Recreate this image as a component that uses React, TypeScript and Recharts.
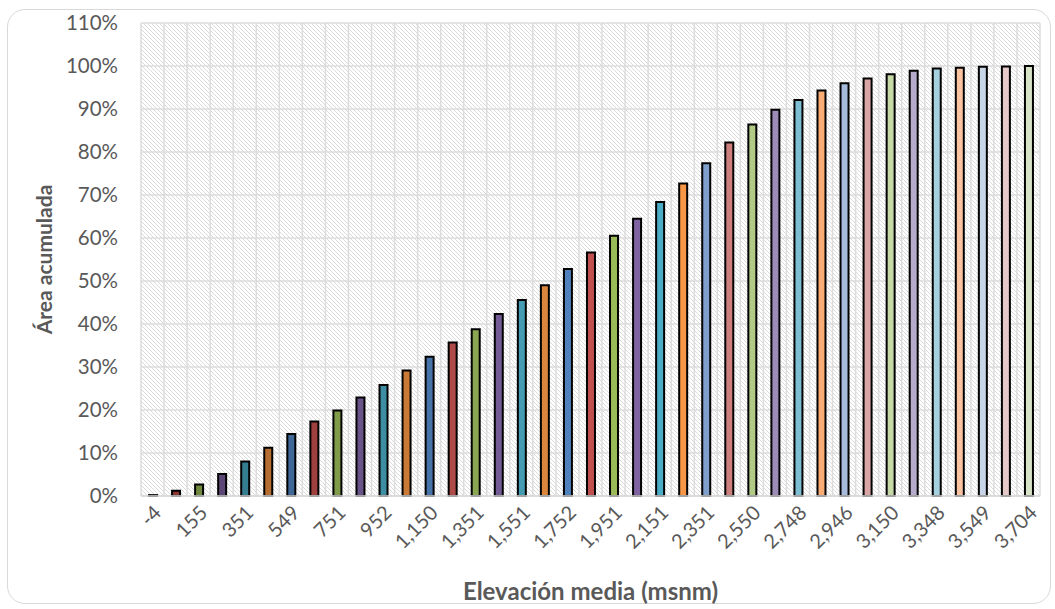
import { Bar, BarChart, CartesianGrid, Cell, XAxis, YAxis } from "recharts";

// elevación media de cada clase (msnm); las de índice impar no se rotulan
const elevations = [
  -4, 55, 155, 252, 351, 450, 549, 650, 751, 851, 952, 1051, 1150, 1250, 1351, 1451, 1551, 1651, 1752, 1851,
  1951, 2051, 2151, 2251, 2351, 2451, 2550, 2649, 2748, 2847, 2946, 3049, 3150, 3249, 3348, 3449, 3549, 3650, 3704,
];

// área acumulada (%)
const areaAcumulada = [
  0.2, 1.2, 2.7, 5.1, 8.0, 11.2, 14.4, 17.3, 19.9, 22.9, 25.8, 29.2, 32.4, 35.7, 38.8, 42.3, 45.6, 49.0, 52.8, 56.6,
  60.5, 64.5, 68.4, 72.7, 77.4, 82.2, 86.4, 89.8, 92.1, 94.3, 96.0, 97.1, 98.1, 98.9, 99.4, 99.6, 99.8, 99.9, 100,
];

const barColors = [
  "#385D8A", "#8C3836", "#71893F", "#5C4776", "#357D91", "#B66D31",
  "#3F6899", "#9E413E", "#809C4B", "#69548A", "#3D8DA3", "#C97A37",
  "#4674AA", "#AE4A47", "#8AA653", "#735C95", "#449BB2", "#DA863D",
  "#4F81BD", "#C0504D", "#9BBB59", "#8064A2", "#4BACC6", "#F79646",
  "#7F9FCC", "#CD7F7D", "#B1CA85", "#9D8BB8", "#7DBED3", "#F9AD75",
  "#A7BBDC", "#DAA6A5", "#C5D8A6", "#B7ABCB", "#A5D0DD", "#FAC4A3",
  "#C8D4E8", "#E5C8C8", "#D7E3C7",
];

const yTicks = [0, 10, 20, 30, 40, 50, 60, 70, 80, 90, 100, 110];

const data = elevations.map((e, i) => ({
  elev: e.toLocaleString("en-US"),
  area: areaAcumulada[i],
}));

const FONT = "Lato, 'Open Sans', sans-serif";
const GRAY = "#595959";

export default function App() {
  return (
    <div style={{ position: "absolute", left: 0, top: 0, width: 1055, height: 609, background: "#fff", fontFamily: FONT }}>
      <div
        style={{
          position: "absolute",
          left: 7,
          top: 9,
          width: 1044,
          height: 595,
          border: "1.5px solid #D9D9D9",
          borderRadius: 18,
          boxSizing: "border-box",
        }}
      />
      <BarChart
        width={1055}
        height={609}
        data={data}
        margin={{ top: 23, right: 15, left: 0, bottom: 73 }}
        barCategoryGap={0}
        style={{ position: "absolute", left: 0, top: 0 }}
      >
        <defs>
          <pattern id="hatch" width="4" height="4" patternUnits="userSpaceOnUse">
            <rect width="4" height="4" fill="#fff" />
            <path d="M0,0 L4,4 M-1,3 L1,5 M3,-1 L5,1" stroke="#DADADA" strokeWidth="1" />
          </pattern>
        </defs>
        <CartesianGrid
          fill="url(#hatch)"
          stroke="#DCDCDC"
          strokeWidth={1.5}
          verticalCoordinatesGenerator={({ offset }: any) =>
            data.map((_, i) => offset.left + (i * offset.width) / data.length).concat(offset.left + offset.width)
          }
        />
        <XAxis
          dataKey="elev"
          interval={1}
          angle={-45}
          textAnchor="end"
          height={40}
          tickLine={false}
          axisLine={{ stroke: "#D9D9D9", strokeWidth: 1.5 }}
          tick={{ fill: GRAY, fontSize: 20, fontFamily: FONT }}
          label={{
            value: "Elevación media (msnm)",
            position: "bottom",
            offset: 47,
            style: { fill: GRAY, fontSize: 24, fontWeight: 700, fontFamily: FONT },
          }}
        />
        <YAxis
          width={141}
          domain={[0, 110]}
          ticks={yTicks}
          tickFormatter={(v) => `${v}%`}
          tickLine={false}
          axisLine={false}
          tickMargin={17}
          tick={{ fill: GRAY, fontSize: 20.5, fontFamily: FONT }}
          label={{
            value: "Área acumulada",
            angle: -90,
            position: "insideLeft",
            offset: 45,
            style: { textAnchor: "middle", fill: GRAY, fontSize: 21, fontWeight: 700, fontFamily: FONT },
          }}
        />
        <Bar dataKey="area" barSize={8} stroke="#000" strokeWidth={2} isAnimationActive={false}>
          {data.map((_, i) => (
            <Cell key={i} fill={barColors[i]} />
          ))}
        </Bar>
      </BarChart>
    </div>
  );
}
